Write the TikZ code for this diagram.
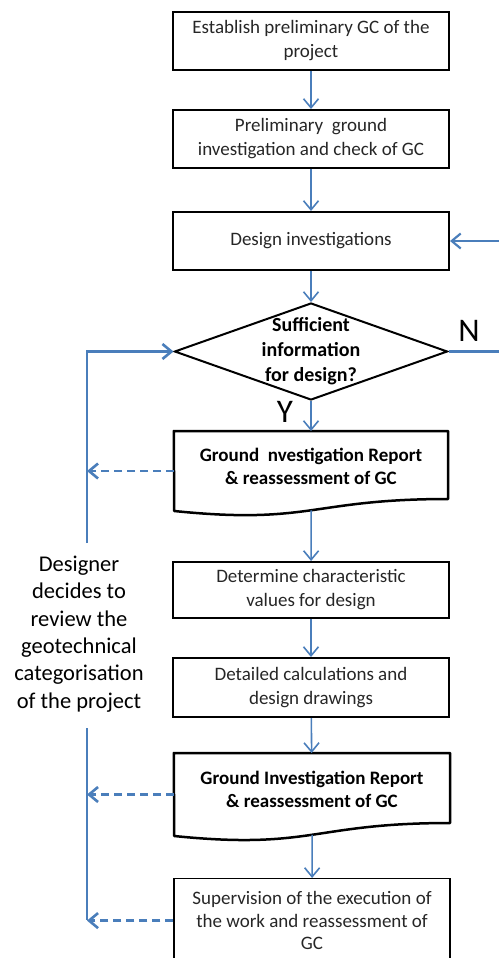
\documentclass[tikz,border=0pt]{standalone}
\usepackage{fontspec}
\setmainfont{Carlito}
\usetikzlibrary{arrows.meta,shapes.geometric}
\definecolor{flowblue}{RGB}{74,126,187}
\tikzset{
  stepbox/.style={draw, line width=2pt, rectangle, minimum width=276pt, minimum height=58pt,
    align=center, inner sep=2pt, font=\fontsize{19}{24}\selectfont, text=black!85},
  doctext/.style={minimum width=274pt, minimum height=70pt, anchor=north, align=center,
    inner sep=0pt, font=\fontsize{19}{23}\selectfont\bfseries},
  docline/.style={line width=2.5pt, line join=round},
  flow/.style={flowblue, line width=1.6pt, -{Straight Barb[length=9pt,width=15pt]}},
  loopline/.style={flowblue, line width=2.6pt},
  back/.style={flowblue, line width=2.6pt, dash pattern=on 8pt off 5pt,
    -{Straight Barb[length=9pt,width=15pt]}},
  yn/.style={font=\fontsize{33}{33}\selectfont}
}
\begin{document}
\begin{tikzpicture}[x=1pt, y=-1pt]
  \useasboundingbox (0,0) rectangle (498,958);

  % Boxes
  \node[stepbox] (gc) at (311,41) {Establish preliminary GC of the\\project};
  \node[stepbox] (prelim) at (311,139) {Preliminary\ \ ground\\investigation and check of GC};
  \node[stepbox] (design) at (311,241) {Design investigations};

  % Decision
  \node[draw, diamond, line width=2pt, minimum width=273pt, minimum height=97pt, inner sep=0pt] (dia) at (311,351.5) {};
  \node[align=center, font=\fontsize{20}{25}\selectfont\bfseries] (diatext) at (dia.center) {Sufficient\\information\\for design?};
  \node[yn] (nlab) at (469,331) {N};
  \node[yn] (ylab) at (285,412) {Y};

  % Reports
  \node[doctext] (gir1) at (311,431) {Ground\ \ nvestigation Report\\\& reassessment of GC};
  \draw[docline] (gir1.north west) -- (gir1.north east) -- ++(0,68)
    .. controls +(-137,0) and +(137,14) .. ++(-274,12) coordinate[pos=.5] (gir1-bot)
    -- coordinate (gir1-w) (gir1.north west) -- cycle;

  \node[stepbox, minimum height=56pt] (charval) at (311,590) {Determine characteristic\\values for design};
  \node[stepbox, minimum height=59pt] (calc) at (311,687.5) {Detailed calculations and\\design drawings};

  \node[doctext, minimum width=276pt, minimum height=73pt] (gir2) at (312,753) {Ground Investigation Report\\\& reassessment of GC};
  \draw[docline] (gir2.north west) -- (gir2.north east) -- ++(0,70)
    .. controls +(-138,0) and +(138,14) .. ++(-276,13) coordinate[pos=.5] (gir2-bot)
    -- coordinate (gir2-w) (gir2.north west) -- cycle;

  \node[stepbox, line width=1.2pt, minimum height=84pt, anchor=north, font=\fontsize{19}{22.5}\selectfont] (superv) at (312,878) {Supervision of the execution of\\the work and reassessment of\\GC};

  % Side note
  \node[align=center, font=\fontsize{22.5}{27.4}\selectfont] (review) at (79,634) {Designer\\decides to\\review the\\geotechnical\\categorisation\\of the project};

  % Main flow
  \draw[flow] (gc) -- (prelim);
  \draw[flow] (prelim) -- (design);
  \draw[flow] (design) -- (dia);
  \draw[flow] (dia) -- (gir1);
  \draw[flow] (gir1-bot) -- (charval);
  \draw[flow] (charval) -- (calc);
  \draw[flow] (calc) -- (gir2);
  \draw[flow] (gir2-bot) -- (superv);

  % No: back to design investigations
  \coordinate (nturn) at (500,296);
  \draw[flow, line width=2.2pt] (dia.east) -- (dia.east -| nturn) -- (design.east -| nturn) -- (design.east);

  % Review loop
  \coordinate (looptop) at (87,543);
  \coordinate (gapbot) at (87,728);
  \coordinate (loopbot) at (87,920);
  \draw[loopline, -{Straight Barb[length=9pt,width=15pt]}] (looptop) |- (dia.west);
  \draw[loopline] (gapbot) -- (loopbot);
  \draw[back] (gir1-w) -- (gir1-w -| loopbot);
  \draw[back] (gir2-w) -- (gir2-w -| loopbot);
  \draw[back] (superv.west) -- (superv.west -| loopbot);
\end{tikzpicture}
\end{document}
